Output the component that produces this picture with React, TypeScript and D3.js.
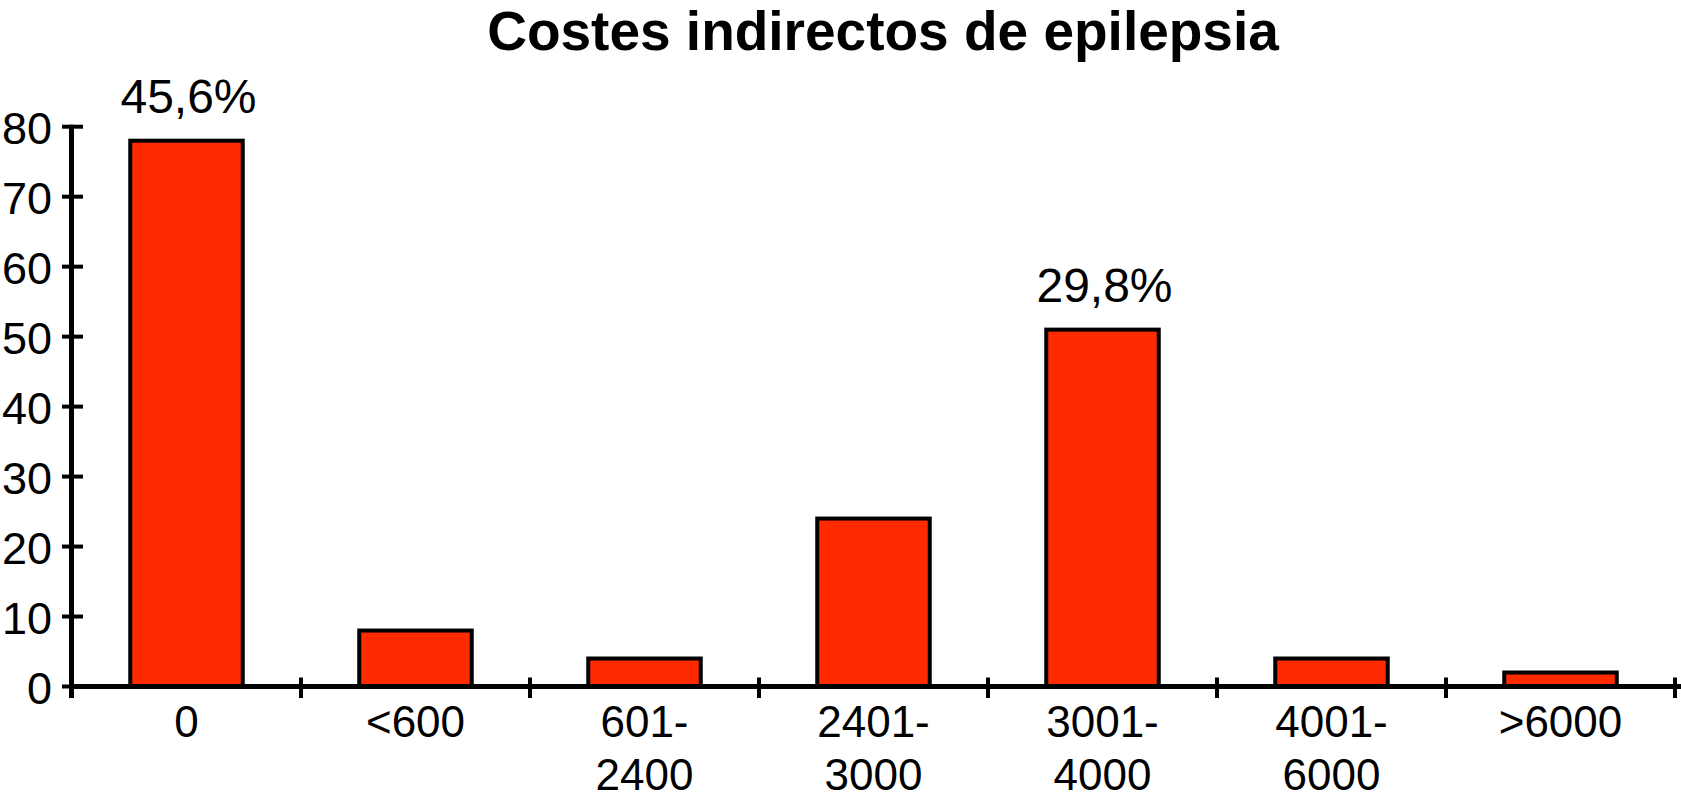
import React from "react";
import * as d3 from "d3";

const categories: string[] = ["0", "<600", "601-\n2400", "2401-\n3000", "3001-\n4000", "4001-\n6000", ">6000"];
const values: number[] = [78, 8, 4, 24, 51, 4, 2];
const barLabels: (string | null)[] = ["45,6%", null, null, null, "29,8%", null, null];
const yTicks: number[] = [0, 10, 20, 30, 40, 50, 60, 70, 80];
const title = "Costes indirectos de epilepsia";

const W = 1681;
const H = 799;
const FONT = "'Liberation Sans', Arial, Helvetica, sans-serif";

export default function App() {
  const x = d3
    .scaleBand<string>()
    .domain(categories)
    .range([72, 1675])
    .paddingInner(0.5)
    .paddingOuter(0.25);
  const y = d3.scaleLinear().domain([0, 80]).range([686.5, 126.7]);
  const step = x.step();
  const bw = x.bandwidth();
  const boundaries = categories.map((c) => (x(c) as number) + bw / 2 - step / 2);
  boundaries.push((x(categories[categories.length - 1]) as number) + bw / 2 + step / 2);
  const y0 = y(0);

  return (
    <svg
      width={W}
      height={H}
      viewBox={`0 0 ${W} ${H}`}
      style={{ position: "absolute", left: 0, top: 0, background: "#fff" }}
      fontFamily={FONT}
    >
      <rect x={0} y={0} width={W} height={H} fill="#fff" />
      <text x={883} y={50} textAnchor="middle" fontSize={55} fontWeight="bold" fill="#000">
        {title}
      </text>

      {categories.map((c, i) => (
        <rect
          key={"b" + i}
          x={(x(c) as number) + 1}
          y={y(values[i])}
          width={bw - 2}
          height={y0 - y(values[i])}
          fill="#ff2a00"
          stroke="#000"
          strokeWidth={4}
        />
      ))}

      {categories.map((c, i) =>
        barLabels[i] ? (
          <text
            key={"l" + i}
            x={(x(c) as number) + bw / 2 + 2}
            y={y(values[i]) - 28}
            textAnchor="middle"
            fontSize={48}
            fill="#000"
          >
            {barLabels[i]}
          </text>
        ) : null
      )}

      {/* y axis */}
      <line x1={71.5} x2={71.5} y1={y(80) - 2} y2={698} stroke="#000" strokeWidth={5} />
      {yTicks.map((t) => (
        <g key={"yt" + t}>
          <line x1={62} x2={83} y1={y(t)} y2={y(t)} stroke="#000" strokeWidth={4} />
          <text x={52} y={y(t) + 17} textAnchor="end" fontSize={45} fill="#000">
            {t}
          </text>
        </g>
      ))}

      {/* x axis */}
      <line x1={69} x2={W} y1={y0} y2={y0} stroke="#000" strokeWidth={5} />
      {boundaries.map((b, i) => (
        <line key={"xt" + i} x1={b} x2={b} y1={y0 - 9} y2={698} stroke="#000" strokeWidth={4} />
      ))}
      {categories.map((c, i) => {
        const lines = c.split("\n");
        return (
          <text key={"xl" + i} textAnchor="middle" fontSize={44} fill="#000">
            {lines.map((ln, j) => (
              <tspan key={j} x={(x(c) as number) + bw / 2} y={737 + j * 53}>
                {ln}
              </tspan>
            ))}
          </text>
        );
      })}
    </svg>
  );
}
